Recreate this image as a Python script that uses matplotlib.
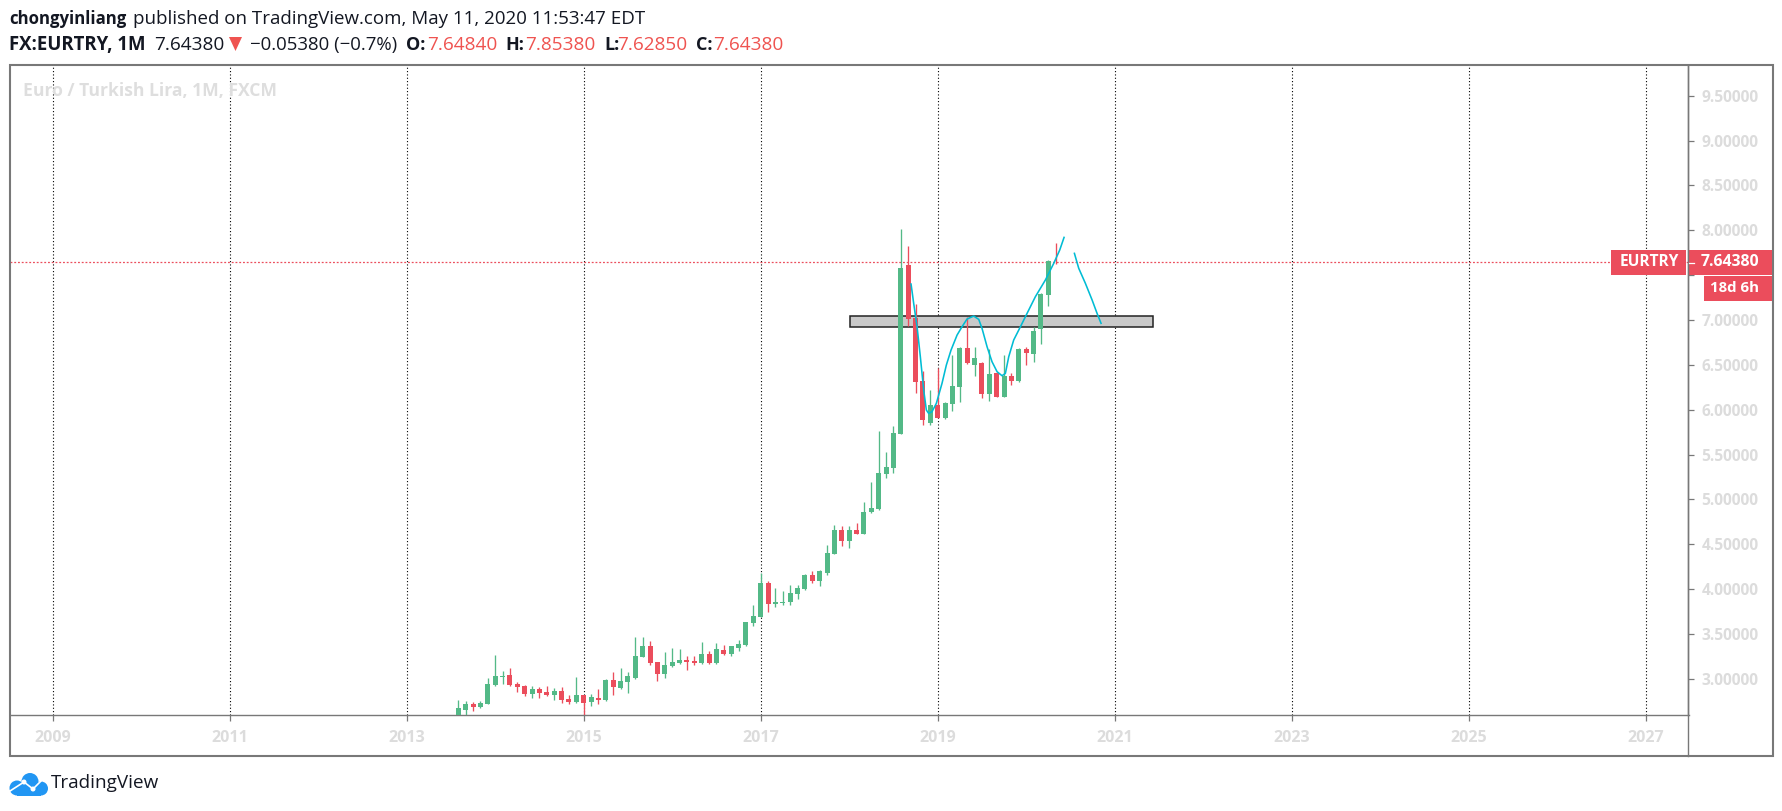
import matplotlib
matplotlib.use("Agg")
import matplotlib.pyplot as plt
from matplotlib.patches import Rectangle, Polygon, Circle

W = 1783
H = 811

GREEN = '#53b987'
RED = '#eb4d5c'
TEXT_RED = '#ef5350'
GREY = '#787878'
LABEL = '#dcdcdc'
FONT = 'Open Sans'

plt.rcParams['font.family'] = [FONT, 'DejaVu Sans']

#Monthly candles from Aug 2013 to May 2020
first_bar = 2013 + 7 / 12

opens = [2.580, 2.652, 2.719, 2.685, 2.719,
         2.931, 3.020, 3.042, 2.942, 2.919, 2.830, 2.886, 2.853, 2.819, 2.864, 2.774, 2.741,
         2.819, 2.741, 2.786, 2.763, 2.986, 2.897, 2.964, 3.009, 3.243, 3.365, 3.187, 3.053,
         3.142, 3.176, 3.209, 3.198, 3.176, 3.276, 3.176, 3.321, 3.276, 3.343, 3.376, 3.622,
         3.689, 4.068, 3.833, 3.845, 3.856, 3.945, 4.001, 4.157, 4.090, 4.179, 4.391, 4.659,
         4.536, 4.659, 4.614, 4.859, 4.893, 5.283, 5.350, 5.729, 7.613, 7.022, 6.320, 5.851,
         6.052, 5.907, 6.063, 6.253, 6.688, 6.498, 6.520, 6.175, 6.409, 6.141, 6.375, 6.320,
         6.676, 6.621, 6.899, 7.278, 7.6484]
highs = [2.763, 2.752, 2.741, 2.752, 3.009,
         3.265, 3.087, 3.120, 2.964, 2.931, 2.919, 2.908, 2.919, 2.897, 2.908, 2.819, 3.020,
         2.819, 2.830, 2.886, 2.997, 3.075, 3.120, 3.075, 3.466, 3.466, 3.421, 3.187, 3.298,
         3.343, 3.332, 3.254, 3.254, 3.410, 3.310, 3.399, 3.376, 3.365, 3.432, 3.633, 3.822,
         4.176, 4.090, 4.012, 3.979, 4.045, 4.045, 4.168, 4.202, 4.213, 4.492, 4.714, 4.703,
         4.703, 4.737, 4.971, 5.194, 5.762, 5.528, 5.818, 8.014, 7.825, 7.178, 6.431, 6.219,
         6.465, 6.086, 6.610, 6.699, 7.033, 6.699, 6.532, 6.676, 6.420, 6.610, 6.409, 6.688,
         6.699, 6.922, 7.301, 7.669, 7.8538]
lows = [2.550, 2.570, 2.641, 2.674, 2.719,
        2.919, 2.942, 2.919, 2.853, 2.808, 2.786, 2.786, 2.808, 2.763, 2.730, 2.719, 2.730,
        2.592, 2.696, 2.719, 2.752, 2.819, 2.886, 2.841, 2.997, 3.243, 3.154, 2.975, 3.009,
        3.131, 3.165, 3.098, 3.154, 3.165, 3.165, 3.165, 3.265, 3.254, 3.310, 3.365, 3.588,
        3.689, 3.744, 3.800, 3.822, 3.822, 3.889, 3.990, 4.068, 4.034, 4.157, 4.391, 4.480,
        4.458, 4.614, 4.614, 4.848, 4.882, 5.238, 5.294, 5.729, 6.933, 6.186, 5.829, 5.829,
        5.907, 5.896, 5.985, 6.086, 6.509, 6.375, 6.130, 6.097, 6.141, 6.141, 6.275, 6.309,
        6.498, 6.532, 6.732, 7.156, 7.6285]
closes = [2.674, 2.719, 2.685, 2.730, 2.942,
          3.031, 3.031, 2.931, 2.908, 2.830, 2.886, 2.841, 2.819, 2.864, 2.763, 2.741, 2.819,
          2.730, 2.797, 2.763, 2.986, 2.908, 2.975, 3.031, 3.254, 3.365, 3.176, 3.053, 3.154,
          3.187, 3.209, 3.187, 3.176, 3.276, 3.176, 3.332, 3.276, 3.365, 3.388, 3.633, 3.700,
          4.068, 3.833, 3.856, 3.856, 3.956, 4.012, 4.157, 4.090, 4.202, 4.402, 4.659, 4.536,
          4.659, 4.614, 4.859, 4.904, 5.294, 5.361, 5.740, 7.579, 7.011, 6.309, 5.885, 6.052,
          5.907, 6.074, 6.264, 6.688, 6.520, 6.576, 6.175, 6.398, 6.141, 6.375, 6.320, 6.676,
          6.632, 6.877, 7.290, 7.657, 7.6438]

last_price = 7.6438

#Hand drawn projection, two strokes
stroke1_x = [2018.699, 2018.729, 2018.767, 2018.804, 2018.842, 2018.872, 2018.898, 2018.936,
             2018.985, 2019.049, 2019.098, 2019.151, 2019.219, 2019.275, 2019.332, 2019.407,
             2019.464, 2019.501, 2019.558, 2019.614, 2019.671, 2019.727, 2019.765, 2019.803,
             2019.859, 2019.935, 2020.010, 2020.104, 2020.217, 2020.311, 2020.379, 2020.428]
stroke1_y = [7.401, 7.185, 6.925, 6.591, 6.219, 5.996, 5.959, 5.978,
             6.071, 6.294, 6.498, 6.665, 6.832, 6.925, 7.011, 7.044,
             7.007, 6.907, 6.702, 6.535, 6.424, 6.379, 6.405, 6.591,
             6.777, 6.925, 7.074, 7.260, 7.446, 7.631, 7.780, 7.921]
stroke2_x = [2020.545, 2020.594, 2020.669, 2020.745, 2020.801, 2020.846]
stroke2_y = [7.743, 7.576, 7.409, 7.223, 7.074, 6.963]

#Resistance box
box_x = [2018.007, 2021.43]
box_y = [6.918, 7.048]

year_ticks = [2009, 2011, 2013, 2015, 2017, 2019, 2021, 2023, 2025, 2027]
price_ticks = [3.0, 3.5, 4.0, 4.5, 5.0, 5.5, 6.0, 6.5, 7.0, 7.5, 8.0, 8.5, 9.0, 9.5]

fig = plt.figure(figsize=(W / 100, H / 100), dpi=100, facecolor='white')

#Main chart area, everything in data coordinates
ax = fig.add_axes([10 / W, 1 - 715 / H, (1688.5 - 10) / W, 650 / H])
ax.set_xlim(2008.5175, 2027.484)
ax.set_ylim(2.5965, 9.843)

for name in ['top', 'left']:
    ax.spines[name].set_visible(False)
for name in ['bottom', 'right']:
    ax.spines[name].set_color(GREY)
    ax.spines[name].set_linewidth(1.0)

ax.set_xticks(year_ticks)
ax.set_xticklabels([str(y) for y in year_ticks])
ax.set_yticks(price_ticks)
#the 7.5 label sits behind the last price tag
ax.set_yticklabels(['' if p == 7.5 else '%.5f' % p for p in price_ticks])
ax.yaxis.tick_right()
ax.tick_params(axis='x', length=4, width=0.9, color=GREY, pad=7, labelsize=11.5, labelcolor=LABEL)
ax.tick_params(axis='y', length=4.3, width=0.9, color=GREY, pad=5, labelsize=11.2, labelcolor=LABEL)
for label in ax.get_xticklabels() + ax.get_yticklabels():
    label.set_fontweight('bold')
ax.set_axisbelow(True)

ax.add_patch(Rectangle((box_x[0], box_y[0]), box_x[1] - box_x[0], box_y[1] - box_y[0],
                       facecolor='#c9c9c9', edgecolor='#222222', linewidth=1.1, zorder=1))
ax.xaxis.grid(True, color='black', linestyle=(0, (1, 2)), linewidth=0.8)

ax.axhline(last_price, color=RED, linestyle=(0, (1.5, 1.5)), linewidth=0.9, zorder=2)

bar_w = 5 / 88.5
for i in range(len(opens)):
    x = first_bar + i / 12
    col = GREEN if closes[i] >= opens[i] else RED
    ax.vlines(x, lows[i], highs[i], color=col, linewidth=0.95, zorder=3)
    ax.bar(x, abs(closes[i] - opens[i]), width=bar_w, bottom=min(opens[i], closes[i]),
           color=col, linewidth=0, zorder=4)

ax.plot(stroke1_x, stroke1_y, color='#00bcd4', linewidth=1.15, zorder=5)
ax.plot(stroke2_x, stroke2_y, color='#00bcd4', linewidth=1.15, zorder=5)

#Overlay in pixel coordinates for the frame, header and price labels
ov = fig.add_axes([0, 0, 1, 1], zorder=5)
ov.set_xlim(0, W)
ov.set_ylim(H, 0)
ov.axis('off')

ov.add_patch(Rectangle((10, 65), 1763, 691, fill=False, edgecolor=GREY, linewidth=1.5))
ov.plot([1688.5, 1688.5], [65, 756], color=GREY, linewidth=1.0)

ax.text(23, 91, 'Euro / Turkish Lira, 1M, FXCM', transform=ov.transData, color='#dedede',
        fontsize=12.6, fontweight='bold', va='center', zorder=2)

ov.text(9, 19, 'chongyinliang', fontsize=12.1, fontweight='bold', color='#131722', va='center')
ov.text(133, 19, 'published on TradingView.com, May 11, 2020 11:53:47 EDT', fontsize=13.5,
        color='#131722', va='center')

ov.text(9, 45, 'FX:EURTRY, 1M', fontsize=13.4, fontweight='bold', color='#131722', va='center')
ov.text(154, 45, '7.64380', fontsize=13.7, color='#131722', va='center')
ov.add_patch(Polygon([(229, 37), (242, 37), (235.5, 51)], closed=True, facecolor=TEXT_RED, edgecolor='none'))
ov.text(250, 45, '\u22120.05380 (\u22120.7%)', fontsize=13.4, color='#131722', va='center')
for lab, lx, val, vx in [('O:', 406, '7.64840', 427), ('H:', 505, '7.85380', 525),
                         ('L:', 604, '7.62850', 617), ('C:', 696, '7.64380', 713)]:
    ov.text(lx, 45, lab, fontsize=13, fontweight='bold', color='#131722', va='center')
    ov.text(vx, 45, val, fontsize=13.7, color=TEXT_RED, va='center')

#Price tags on the right
ov.add_patch(Rectangle((1611, 250), 75, 25, facecolor=RED, edgecolor='none'))
ov.add_patch(Rectangle((1688, 250), 84, 25, facecolor=RED, edgecolor='none'))
ov.add_patch(Rectangle((1704, 276), 68, 25, facecolor=RED, edgecolor='none'))
ov.plot([1689, 1694], [262.5, 262.5], color='white', linewidth=0.9)
ov.text(1649, 262, 'EURTRY', fontsize=11.2, fontweight='bold', color='white', ha='center', va='center')
ov.text(1701, 262, '7.64380', fontsize=11.4, fontweight='bold', color='white', va='center')
ov.text(1759, 288, '18d 6h', fontsize=10.8, fontweight='bold', color='white', ha='right', va='center')

#TradingView logo
BLUE = '#2196f3'
ov.add_patch(Circle((17, 788), 7.5, facecolor=BLUE, edgecolor='none'))
ov.add_patch(Circle((30, 781.5), 8.5, facecolor=BLUE, edgecolor='none'))
ov.add_patch(Circle((41, 788.5), 7, facecolor=BLUE, edgecolor='none'))
ov.add_patch(Rectangle((17, 785), 24, 10.5, facecolor=BLUE, edgecolor='none'))
ov.plot([10, 24, 33, 42], [791, 782, 789, 780], color='white', linewidth=1.2)
ov.add_patch(Circle((24, 782), 2.5, facecolor='white', edgecolor='none'))
ov.add_patch(Circle((33, 789), 2.5, facecolor='white', edgecolor='none'))
ov.text(51, 783, 'TradingView', fontsize=13.6, color='#131722', va='center')

fig.savefig('out.png', dpi=100)
